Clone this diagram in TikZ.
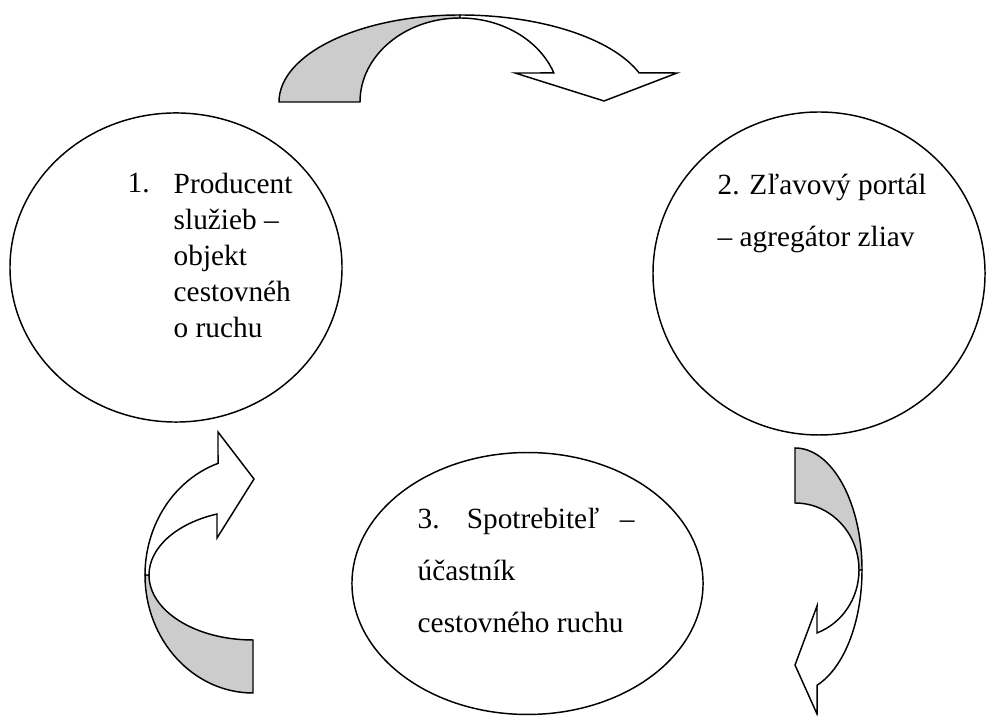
\documentclass[tikz,border=0pt]{standalone}
\usepackage{fontspec}
\setmainfont{Liberation Serif}
\usepackage{tikz}
\usetikzlibrary{shapes.geometric,positioning,calc}
\definecolor{bandgray}{HTML}{CCCCCC}

\begin{document}
\begin{tikzpicture}[
    x=0.4096pt, y=0.4096pt,
    line width=0.6pt,
    oval/.style={ellipse, draw, inner sep=0pt},
    txt/.style={anchor=base west, align=left, inner sep=0pt, font=\fontsize{12}{14.75}\selectfont},
    back/.style={draw, fill=bandgray},
    front/.style={draw, fill=white}
]
    \useasboundingbox (0,0) rectangle (986,716);

    \node[oval, minimum width=136pt, minimum height=126.6pt] (n1) at (176,448.5) {};
    \node[oval, minimum width=136pt, minimum height=132.3pt] (n2) at (819,442.5) {};
    \node[oval, minimum width=143.8pt, minimum height=107.3pt] (n3) at (527.5,132.5) {};

    % base of a multi-line node = its last line
    \node[txt] (num1) at (127,523) {1.};
    \node[txt] (t1) at (173,378) {Producent\\služieb –\\objekt\\cestovnéh\\o ruchu};
    \node[txt, font=\fontsize{12}{21.7}\selectfont] (t2) at (717,469) {2. Zľavový portál\\– agregátor zliav};
    \node[txt, font=\fontsize{12}{21.5}\selectfont] (t3) at (417,83)
        {\makebox[20.1pt][l]{3.}\makebox[62.7pt][l]{Spotrebiteľ}–\\účastník\\cestovného ruchu};

    % centres of the curved arrows
    \coordinate (c12) at (460,614);
    \coordinate (c23) at (795,146);
    \coordinate (c31) at (253,141);

    % 1 -> 2
    \draw[back] ($(c12)+(180:181 and 87)$) arc[start angle=180, end angle=90, x radius=181, y radius=87]
        -- ($(c12)+(90:100 and 84)$) arc[start angle=90, end angle=180, x radius=100, y radius=84] -- cycle;
    \draw[front] ($(c12)+(90:181 and 87)$) arc[start angle=90, end angle=19.5, x radius=190, y radius=87]
        -- (677,643) -- (604,615) -- (515,643) -- ($(c12)+(20.2:100 and 84)$)
        arc[start angle=20.2, end angle=90, x radius=100, y radius=84] -- cycle;

    % 2 -> 3
    \draw[back] ($(c23)+(90:67 and 122)$) arc[start angle=90, end angle=0, x radius=67, y radius=122]
        -- ($(c23)+(0:64 and 67)$) arc[start angle=0, end angle=90, x radius=64, y radius=67] -- cycle;
    \draw[front] ($(c23)+(0:67 and 122)$) arc[start angle=0, end angle=-70.8, x radius=67, y radius=122]
        -- (817,2) -- (795,51) -- (817,110) -- ($(c23)+(-69.9:64 and 67)$)
        arc[start angle=-69.9, end angle=0, x radius=64, y radius=67] -- cycle;

    % 3 -> 1
    \draw[back] ($(c31)+(270:108 and 118)$) arc[start angle=270, end angle=180, x radius=108, y radius=118]
        -- ($(c31)+(180:104 and 65)$) arc[start angle=180, end angle=270, x radius=104, y radius=65] -- cycle;
    \draw[front] ($(c31)+(180:108 and 118)$) arc[start angle=180, end angle=108.9, x radius=108, y radius=118]
        -- (218,284) -- (254,237) -- (217,178) -- ($(c31)+(110.25:104 and 65)$)
        arc[start angle=110.25, end angle=180, x radius=104, y radius=65] -- cycle;
\end{tikzpicture}
\end{document}
